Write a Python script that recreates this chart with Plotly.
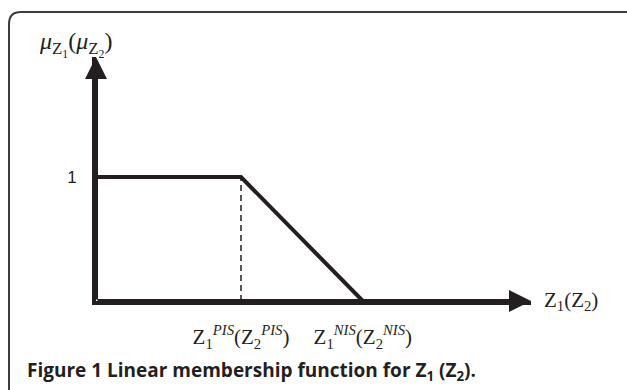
import plotly.graph_objects as go

# ---- data ----
mf_x = [0.0, 1.0, 1.84]          # Z values: origin, Z^PIS, Z^NIS
mf_y = [1.0, 1.0, 0.0]           # membership degree
tick_x = [1.0, 1.84]
tick_text = ["Z<sub>1</sub><sup><i>PIS</i></sup>(Z<sub>2</sub><sup><i>PIS</i></sup>)",
             "Z<sub>1</sub><sup><i>NIS</i></sup>(Z<sub>2</sub><sup><i>NIS</i></sup>)"]
ytick_vals = [1.0]
ytick_text = ["1"]
x_max = 3.0
y_max = 1.968

W, H = 627, 390
ML, MR, MT, MB = 96, 96, 57, 89
PW, PH = W - ML - MR, H - MT - MB
INK = "#231f20"
SERIF = "Liberation Serif, DejaVu Serif, serif"


def px(xp):
    return (xp - ML) / PW


def py(yp):
    return (H - MB - yp) / PH


fig = go.Figure()
fig.add_trace(go.Scatter(x=mf_x, y=mf_y, mode="lines",
                         line=dict(color=INK, width=4), hoverinfo="skip",
                         cliponaxis=False))
fig.add_trace(go.Scatter(x=[tick_x[0], tick_x[0]], y=[0, mf_y[1]], mode="lines",
                         line=dict(color=INK, width=1.5, dash="6px,4px"),
                         hoverinfo="skip"))

# axis arrows
fig.add_annotation(x=x_max, y=0, ax=0, ay=0, xref="x", yref="y", axref="x", ayref="y",
                   showarrow=True, arrowhead=2, arrowsize=1.1, arrowwidth=4,
                   arrowcolor=INK, text="")
fig.add_annotation(x=0, y=y_max, ax=0, ay=0, xref="x", yref="y", axref="x", ayref="y",
                   showarrow=True, arrowhead=2, arrowsize=1.1, arrowwidth=4,
                   arrowcolor=INK, text="")

# axis titles
fig.add_annotation(x=x_max, y=0, xref="x", yref="y", xanchor="left", yanchor="middle",
                   xshift=11, showarrow=False,
                   text="Z<sub>1</sub>(Z<sub>2</sub>)",
                   font=dict(family=SERIF, size=21, color=INK))
fig.add_annotation(x=px(75), y=py(45), xref="paper", yref="paper",
                   xanchor="center", yanchor="middle", showarrow=False,
                   text="<i>μ</i><sub>Z<sub>1</sub></sub>(<i>μ</i><sub>Z<sub>2</sub></sub>)",
                   font=dict(family=SERIF, size=24, color=INK))

# caption
fig.add_annotation(x=px(25), y=py(371), xref="paper", yref="paper",
                   xanchor="left", yanchor="middle", showarrow=False,
                   text="<b>Figure 1 Linear membership function for Z<sub>1</sub> (Z<sub>2</sub>).</b>",
                   font=dict(family="Open Sans, sans-serif", size=19, color=INK))

# frame
r = 12
path = (f"M {px(9)},{py(H + 2)} L {px(9)},{py(12 + r)} "
        f"Q {px(9)},{py(12)} {px(9 + r)},{py(12)} L {px(W + 2)},{py(12)}")
fig.add_shape(type="path", path=path, xref="paper", yref="paper",
              line=dict(color="#3c3c3c", width=2))

fig.update_layout(
    width=W, height=H, margin=dict(l=ML, r=MR, t=MT, b=MB),
    paper_bgcolor="white", plot_bgcolor="white", showlegend=False,
    xaxis=dict(range=[0, x_max], showgrid=False, zeroline=False,
               showline=True, linewidth=4, linecolor=INK, mirror=False,
               tickvals=tick_x, ticktext=tick_text, ticks="",
               ticklabelstandoff=14,
               tickfont=dict(family=SERIF, size=21, color=INK)),
    yaxis=dict(range=[0, y_max], showgrid=False, zeroline=False,
               showline=True, linewidth=4, linecolor=INK,
               tickvals=ytick_vals, ticktext=ytick_text, ticks="",
               ticklabelstandoff=12,
               tickfont=dict(family="Liberation Sans, Arial, sans-serif", size=17, color=INK)),
)

fig.write_html("out.html", config={"displayModeBar": False},
               post_script="document.body.style.margin='0';document.body.style.overflow='hidden';")
